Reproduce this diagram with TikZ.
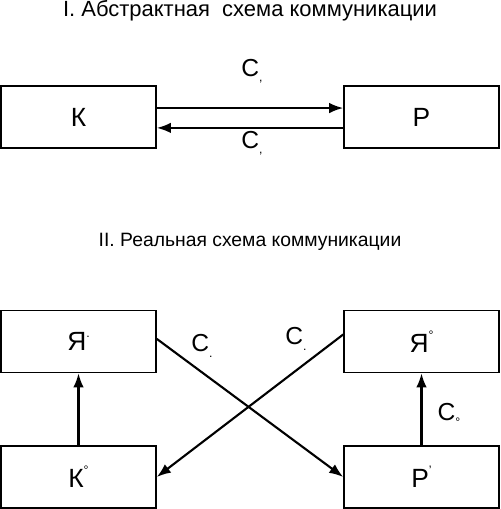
\documentclass[tikz,border=0pt]{standalone}
\usepackage{fontspec}
\setmainfont{Liberation Sans}
\usetikzlibrary{arrows.meta}
\newcommand{\lowmark}[1]{\raisebox{-0.4ex}{\fontsize{7}{7}\selectfont #1}}
\newcommand{\highmark}[1]{\raisebox{0.95ex}{\fontsize{7}{7}\selectfont #1}}

\begin{document}
\begin{tikzpicture}[x=0.02cm,y=-0.02cm,
    box/.style={draw,line width=0.9pt,minimum width=3.1cm,minimum height=1.24cm,inner sep=0pt,font=\fontsize{15}{17}\selectfont},
    link/.style={line width=1.2pt,-{Latex[length=8pt,width=6pt]}},
    lbl/.style={font=\fontsize{14}{16}\selectfont,inner sep=0pt},
    title/.style={font=\fontsize{12.5}{15}\selectfont,inner sep=0pt}]
    \useasboundingbox (0,0) rectangle (500,509);
    \node[title] (t1) at (250,11) {I. Абстрактная\ \ схема коммуникации};
    \node[box] (K) at (78.5,117) {К};
    \node[box] (P) at (421.5,117) {Р};
    \draw[link] ([yshift=5.1pt]K.east) -- ([yshift=5.1pt]P.west);
    \draw[link] ([yshift=-6.2pt]P.west) -- ([yshift=-6.2pt]K.east);
    \node[lbl] (c1) at (252,71) {С\lowmark{,}};
    \node[lbl] (c2) at (252,143) {С\lowmark{,}};

    \node[title,font=\fontsize{11}{13}\selectfont] (t2) at (250,242) {II. Реальная схема коммуникации};
    \node[box] (Ya1) at (78.5,341.5) {Я\highmark{.}};
    \node[box] (Ya2) at (421.5,341.5) {Я\highmark{°}};
    \node[box] (K2) at (78.5,477) {К\highmark{°}};
    \node[box] (P2) at (421.5,477) {Р\highmark{'}};
    \draw[link] (K2) -- (Ya1);
    \draw[link] (P2) -- (Ya2);
    \draw[link] ([yshift=1.5pt]Ya1.east) -- (P2.west);
    \draw[link] ([yshift=4pt]Ya2.west) -- (K2.east);
    \node[lbl] (c3) at (202,346) {С\lowmark{.}};
    \node[lbl] (c4) at (296,339) {С\lowmark{.}};
    \node[lbl] (c5) at (449,415) {С\lowmark{°}};
\end{tikzpicture}
\end{document}
